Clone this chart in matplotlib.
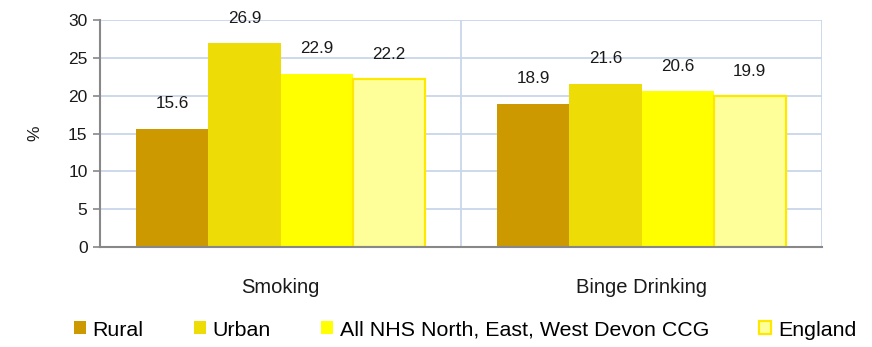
import matplotlib
matplotlib.use("Agg")
import matplotlib.pyplot as plt
import numpy as np

categories = ["Smoking", "Binge Drinking"]
series_names = ["Rural", "Urban", "All NHS North, East, West Devon CCG", "England"]
rural = [15.6, 18.9]
urban = [26.9, 21.6]
all_ccg = [22.9, 20.6]
england = [22.2, 19.9]
yticks = [0, 5, 10, 15, 20, 25, 30]

plt.rcParams['font.family'] = ['Liberation Sans', 'DejaVu Sans']
leg_family = ['Liberation Sans', 'DejaVu Sans']

fig = plt.figure(figsize=(8.72, 3.47), dpi=100)

# size the legend font so that the longest entry spans ~370 px like the reference
renderer = fig.canvas.get_renderer()
probe = fig.text(0, 0, series_names[2], family=leg_family, fontsize=14)
w = probe.get_window_extent(renderer).width
probe.remove()
leg_size = min(16.0, 14 * 370.0 / w)

ax = fig.add_axes([100/872, 1-247/347, 722/872, 227/347])

values = [rural, urban, all_ccg, england]
fills = ["#CC9900", "#EDDC05", "#FFFF00", "#FFFF99"]
edges = ["#CC9900", "#EDDC05", "#FFFF00", "#FFE800"]
lws = [0, 0, 0, 1.6]
width = 0.2
x = np.arange(len(categories)) + 0.5
handles = []
for i, (vals, fc, ec, lw) in enumerate(zip(values, fills, edges, lws)):
    pos = x + (i - 1.5) * width
    bars = ax.bar(pos, vals, width=width, color=fc, edgecolor=ec, linewidth=lw, zorder=3,
                  label=series_names[i])
    handles.append(bars)
    for p, v in zip(pos, vals):
        ax.annotate(f"{v:.1f}", (p, v), xytext=(0, 25), textcoords="offset pixels",
                    ha="center", va="center", fontsize=12.3, color="#1a1a1a")

ax.set_xlim(0, 2)
ax.set_ylim(0, 30)
ax.set_yticks(yticks)
ax.set_yticklabels([str(t) for t in yticks], fontsize=12.5, color="#1a1a1a")
ax.set_xticks(x)
ax.set_xticklabels(categories, fontsize=14.5, color="#1a1a1a")
ax.tick_params(axis='x', length=0, pad=22)
ax.tick_params(axis='y', length=5, color="#888888", width=1.2, pad=4)

grid_c = "#C9D7EA"
for t in yticks[1:]:
    ax.axhline(t, color=grid_c, lw=1.3, zorder=1)
for xv in [1, 2]:
    ax.axvline(xv, color=grid_c, lw=1.3, zorder=1)

for s in ["top", "right"]:
    ax.spines[s].set_visible(False)
ax.spines["left"].set_color("#888888")
ax.spines["left"].set_linewidth(1.5)
ax.spines["bottom"].set_color("#888888")
ax.spines["bottom"].set_linewidth(1.5)
ax.spines["bottom"].set_zorder(4)

ax.set_ylabel("%", fontsize=12.5, color="#1a1a1a")
ax.yaxis.set_label_coords(-58/722, 0.5)

px_per_em = leg_size * 100 / 72.0
leg = fig.legend(handles=handles, loc="center", bbox_to_anchor=(465/872, 1-330/347), ncol=4,
                 frameon=False, prop={'family': leg_family, 'size': leg_size},
                 handlelength=12/px_per_em, handleheight=12/px_per_em,
                 handletextpad=7/px_per_em, columnspacing=50/px_per_em, borderaxespad=0)

fig.savefig("out.png", dpi=100)
